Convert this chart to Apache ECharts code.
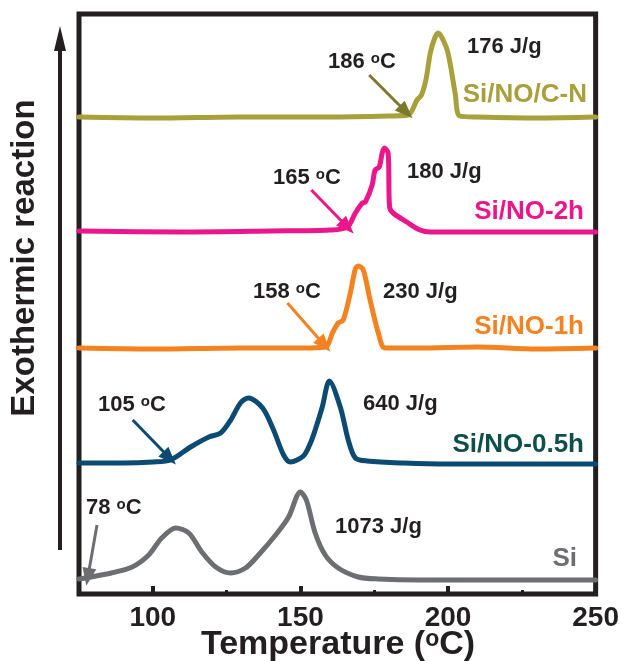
<!DOCTYPE html>
<html><head><meta charset="utf-8">
<script src="https://cdn.jsdelivr.net/npm/echarts@6/dist/echarts.min.js"></script>
<style>html,body{margin:0;padding:0;background:#fff}#c{width:622px;height:661px}</style>
</head><body><div id="c"></div>
<script>
// ---- data (temperature in °C, signal in arbitrary offset units) ----
const xTicks = [100, 150, 200, 250];
const xMinorTicks = [125, 175, 225];

const siT = [75, 77, 86, 93, 98.6, 103, 107.8, 112.2, 116.6, 121.3, 126.4, 131.4, 135.8, 141.6, 146, 150, 152, 155, 158.4, 162.8, 169.6, 176.4, 190, 220, 250];
const siV = [15, 16, 21, 27, 39, 56, 66, 61, 42, 27, 21, 26, 39, 59, 77, 102, 94, 61, 39, 26, 17, 15, 14, 14, 14];

const h05T = [75, 90, 100, 106, 112.8, 119, 123, 126.4, 129.7, 132.4, 137.2, 140.9, 144.3, 146.6, 151, 153.4, 155, 157.4, 159.8, 163.5, 166.2, 168.6, 172.6, 185, 200, 220, 250];
const h05V = [131, 131, 132, 134, 147, 157, 161, 174, 191, 196, 186, 164, 139, 132, 138, 151, 164, 187, 213, 187, 154, 136, 133, 131, 130, 130, 130];

const h1T = [75, 100, 130, 150, 158.4, 161, 162.8, 164.5, 166.9, 168.6, 169.6, 171.3, 173.6, 176.4, 178.7, 190, 210, 230, 250];
const h1V = [246, 245, 246, 246, 247, 262, 271, 274, 301, 325, 328, 324, 294, 261, 246, 246, 247, 245, 246];

const h2T = [75, 110, 140, 160, 165.9, 168.6, 171, 172, 174.3, 175.3, 176.7, 177.7, 178.4, 179.7, 180.2, 181.4, 186, 190.5, 194, 220, 250];
const h2V = [363, 362, 363, 364, 367, 381, 391, 392, 409, 424, 427, 441, 446, 441, 387, 381, 372, 364, 362, 362, 362];

const cnT = [75, 100, 130, 160, 180, 186.5, 189.5, 191, 192.5, 194, 195.5, 196.6, 198, 200, 202.4, 204, 210, 230, 250];
const cnV = [477, 476, 477, 477, 478, 479, 494, 499, 514, 541, 556, 561, 556, 541, 501, 478, 477, 476, 477];

const seriesNames = ['Si', 'Si/NO-0.5h', 'Si/NO-1h', 'Si/NO-2h', 'Si/NO/C-N'];
const enthalpy = ['1073 J/g', '640 J/g', '230 J/g', '180 J/g', '176 J/g'];
const onsetLabels = ['78', '105', '158', '165', '186'];
// onset arrows: [startT, startV, tipT, tipV]
const arrowsSi  = [81.1, 69, 78.0, 17];
const arrows05  = [93.2, 174, 105.7, 136];
const arrows1h  = [145.6, 291, 158.1, 249];
const arrows2h  = [153.7, 404, 165.9, 367];
const arrowsCN  = [173.3, 519, 185.8, 482];

// ---- styling ----
const FONT = '"Liberation Sans", Arial, Helvetica, sans-serif';
const INK = '#231f20';
const colors = {si:'#6d6e71', h05:'#0b4a72', h1:'#f58220', h2:'#ec168c', cn:'#a8a03a'};

function zip(a, b) { return a.map((t, i) => [t, b[i]]); }
function arrowLine(arr, color) {
  return {
    silent: true, animation: false,
    symbol: ['none', 'triangle'], symbolSize: [14, 18],
    lineStyle: {color: color, width: 3, type: 'solid'},
    itemStyle: {color: color},
    label: {show: false}, emphasis: {disabled: true},
    data: [[{coord: [arr[0], arr[1]]}, {coord: [arr[2], arr[3]]}]]
  };
}
function curve(name, T, V, color, arr, arrColor) {
  return {
    name: name, type: 'line', data: zip(T, V), showSymbol: false,
    smooth: 0.3, animation: false, silent: true,
    lineStyle: {color: color, width: 5, cap: 'round', join: 'round'},
    markLine: arrowLine(arr, arrColor)
  };
}

function txt(x, y, text, opts) {
  opts = opts || {};
  const fs = opts.fs || 22;
  return {
    type: 'text', x: x, y: y, silent: true,
    style: {
      text: text, fill: opts.color || INK, fontSize: fs, fontWeight: 'bold', fontFamily: FONT,
      align: opts.align || 'left', textAlign: opts.align || 'left',
      verticalAlign: 'middle', textVerticalAlign: 'middle',
      lineHeight: fs,
      rich: {s: {fontSize: Math.round(fs * 0.7), fontWeight: 'bold', fontFamily: FONT, fill: opts.color || INK, verticalAlign: 'top', lineHeight: Math.round(fs * 0.7)}}
    }
  };
}

const chart = echarts.init(document.getElementById('c'), null, {renderer: 'canvas'});
chart.setOption({
  backgroundColor: '#fff',
  animation: false,
  grid: {left: 79, right: 25, top: 14, bottom: 67, show: true, borderWidth: 5, borderColor: INK, backgroundColor: 'transparent', containLabel: false},
  xAxis: [{
    type: 'value', min: 75, max: 250, position: 'bottom',
    axisLine: {show: false}, splitLine: {show: false},
    axisTick: {show: true, inside: true, length: 8, customValues: xTicks, lineStyle: {color: INK, width: 4}},
    axisLabel: {show: true, customValues: xTicks, margin: 10, color: INK, fontSize: 28, fontWeight: 'bold', fontFamily: FONT, showMinLabel: true, showMaxLabel: true}
  }, {
    type: 'value', min: 75, max: 250, position: 'bottom',
    axisLine: {show: false}, splitLine: {show: false}, axisLabel: {show: false},
    axisTick: {show: true, inside: true, length: 4, customValues: xMinorTicks, lineStyle: {color: INK, width: 3}}
  }],
  yAxis: {type: 'value', min: 0, max: 580, show: false},
  series: [
    curve(seriesNames[0], siT, siV, colors.si, arrowsSi, colors.si),
    curve(seriesNames[1], h05T, h05V, colors.h05, arrows05, colors.h05),
    curve(seriesNames[2], h1T, h1V, colors.h1, arrows1h, colors.h1),
    curve(seriesNames[3], h2T, h2V, colors.h2, arrows2h, colors.h2),
    curve(seriesNames[4], cnT, cnV, colors.cn, arrowsCN, '#7d7a2e')
  ],
  graphic: [
    // y-axis arrow
    {type: 'line', silent: true, shape: {x1: 60, y1: 550, x2: 60, y2: 45}, style: {stroke: INK, lineWidth: 4}},
    {type: 'polygon', silent: true, shape: {points: [[60, 26], [54, 51], [66, 51]]}, style: {fill: INK}},
    // axis titles
    {type: 'text', x: 25, y: 258, rotation: Math.PI / 2, silent: true,
     style: {text: 'Exothermic reaction', fill: INK, fontSize: 33, fontWeight: 'bold', fontFamily: FONT,
             align: 'center', textAlign: 'center', verticalAlign: 'middle', textVerticalAlign: 'middle'}},
    {type: 'text', x: 338, y: 645, silent: true,
     style: {text: 'Temperature ({s|o}C)', fill: INK, fontSize: 34, fontWeight: 'bold', fontFamily: FONT,
             align: 'center', textAlign: 'center', verticalAlign: 'middle', textVerticalAlign: 'middle', lineHeight: 34,
             rich: {s: {fontSize: 23, fontWeight: 'bold', fontFamily: FONT, fill: INK, verticalAlign: 'top', lineHeight: 23}}}},
    // enthalpy labels
    txt(467, 47, enthalpy[4]),
    txt(407, 172, enthalpy[3]),
    txt(383, 292, enthalpy[2]),
    txt(363, 404, enthalpy[1]),
    txt(335, 527, enthalpy[0]),
    // onset labels
    txt(328, 62, onsetLabels[4] + ' {s|o}C'),
    txt(273, 178, onsetLabels[3] + ' {s|o}C'),
    txt(253, 292, onsetLabels[2] + ' {s|o}C'),
    txt(98, 405, onsetLabels[1] + ' {s|o}C'),
    txt(86, 508, onsetLabels[0] + ' {s|o}C'),
    // sample names
    txt(587, 95, seriesNames[4], {fs: 26, color: colors.cn, align: 'right'}),
    txt(584, 212, seriesNames[3], {fs: 26, color: colors.h2, align: 'right'}),
    txt(584, 327, seriesNames[2], {fs: 26, color: colors.h1, align: 'right'}),
    txt(584, 445, seriesNames[1], {fs: 26, color: '#0e4e4b', align: 'right'}),
    txt(577, 559, seriesNames[0], {fs: 26, color: colors.si, align: 'right'})
  ]
});
</script>
</body></html>
